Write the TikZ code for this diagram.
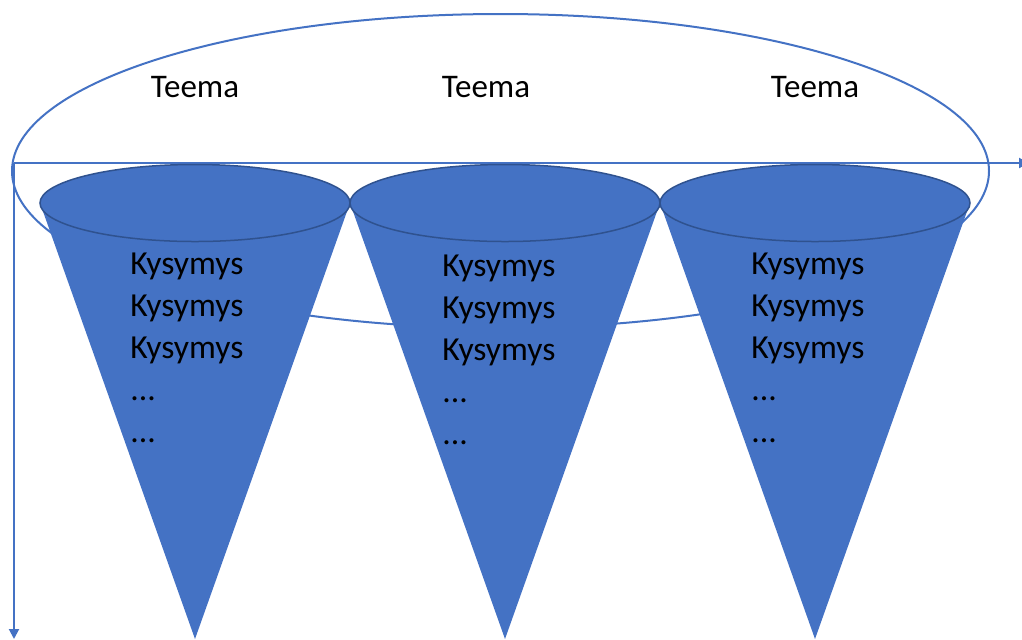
\documentclass[tikz,border=0pt]{standalone}
\usepackage{fontspec}
\setmainfont{Carlito}
\usepackage{tikz}
\usetikzlibrary{arrows.meta}
\definecolor{coneblue}{HTML}{4472C4}
\definecolor{rimblue}{HTML}{2F528F}
\tikzstyle{cone}=[fill=coneblue]
\tikzstyle{rim}=[fill=coneblue,draw=rimblue,line width=0.75pt]
\tikzstyle{frame}=[draw=coneblue,line width=1pt]
\tikzstyle{arrow}=[-{Triangle[length=5pt,width=5pt]},draw=coneblue,fill=coneblue,line width=1pt]
\tikzstyle{theme}=[anchor=base,inner sep=0mm,font=\fontsize{16.5}{21}\selectfont]
\tikzstyle{questions}=[anchor=base west,align=left,inner sep=0mm,font=\fontsize{16.8}{21}\selectfont]

\begin{document}
\begin{tikzpicture}[x=0.5pt,y=-0.5pt]
    \useasboundingbox (0,0) rectangle (1022,639);
    \draw[frame] (500.5,171) ellipse [x radius=488.5,y radius=157];
    \coordinate (origin) at (14,163);
    \coordinate (xend) at (1029,163);
    \coordinate (yend) at (14,639);
    \draw[arrow] (origin) -- (xend);
    \draw[arrow] (origin) -- (yend);
    % cones
    \fill[cone] (40,203) -- (195,639) -- (350,203) -- cycle;
    \fill[cone] (350,203) -- (505,639) -- (660,203) -- cycle;
    \fill[cone] (660,203) -- (815,639) -- (970,203) -- cycle;
    \draw[rim] (195,203) ellipse [x radius=155,y radius=38.5];
    \draw[rim] (505,203) ellipse [x radius=155,y radius=38.5];
    \draw[rim] (815,203) ellipse [x radius=155,y radius=38.5];
    \node[theme] at (195,97) (t1) {Teema};
    \node[theme] at (486,97) (t2) {Teema};
    \node[theme] at (815,97) (t3) {Teema};
    % anchor is the baseline of the last line
    \node[questions] at (130,442) (q1) {Kysymys\\Kysymys\\Kysymys\\...\\...};
    \node[questions] at (442,444) (q2) {Kysymys\\Kysymys\\Kysymys\\...\\...};
    \node[questions] at (751,442) (q3) {Kysymys\\Kysymys\\Kysymys\\...\\...};
\end{tikzpicture}
\end{document}
